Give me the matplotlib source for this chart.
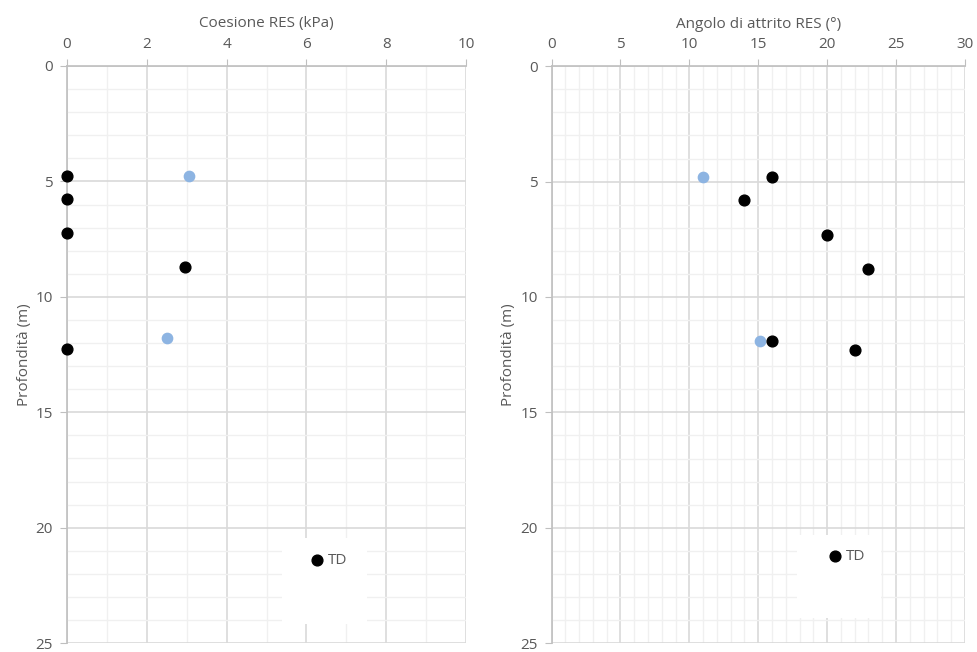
import numpy as np
import matplotlib.pyplot as plt
from matplotlib.patches import Rectangle
from matplotlib.ticker import MultipleLocator

plt.rcParams['font.family'] = ['Open Sans', 'DejaVu Sans']

# dati
prof_td_c = [4.75, 5.75, 7.25, 8.7, 12.25]
coes_td = [0.0, 0.0, 0.0, 2.95, 0.0]
prof_blu_c = [4.75, 11.8]
coes_blu = [3.05, 2.5]

prof_td_a = [4.8, 5.8, 7.3, 8.8, 11.9, 12.3]
attr_td = [16.0, 14.0, 20.0, 23.0, 16.0, 22.0]
prof_blu_a = [4.8, 11.9]
attr_blu = [11.0, 15.1]

grigio = '#595959'
blu = '#8db4e2'

fig = plt.figure(figsize=(9.78, 6.52), dpi=100)
ax1 = fig.add_axes([0.0685, 0.0135, 0.408, 0.8853])
ax2 = fig.add_axes([0.564, 0.0135, 0.4226, 0.885])


def stile(ax, xmax, xmaj, titolo, box):
    ax.set_xlim(0, xmax)
    ax.set_ylim(25, 0)
    ax.xaxis.set_major_locator(MultipleLocator(xmaj))
    ax.xaxis.set_minor_locator(MultipleLocator(1))
    ax.yaxis.set_major_locator(MultipleLocator(5))
    ax.yaxis.set_minor_locator(MultipleLocator(1))
    ax.xaxis.tick_top()
    ax.xaxis.set_label_position('top')
    ax.grid(which='major', color='#d9d9d9', lw=1.2)
    ax.grid(which='minor', color='#f0f0f0', lw=1.0)
    ax.set_axisbelow(True)
    for s in ['right', 'bottom']:
        ax.spines[s].set_visible(False)
    for s in ['left', 'top']:
        ax.spines[s].set_color('#bfbfbf')
        ax.spines[s].set_linewidth(1.2)
    ax.tick_params(which='major', length=5, color='#bfbfbf', labelcolor=grigio,
                   labelsize=11, pad=5)
    ax.tick_params(which='minor', length=0)
    ax.set_xlabel(titolo, color=grigio, fontsize=11, labelpad=7)
    ax.set_ylabel('Profondità (m)', color=grigio, fontsize=11, labelpad=3)
    ax.add_patch(Rectangle((box[0], box[1]), box[2], box[3], transform=ax.transAxes,
                           facecolor='white', edgecolor='none', zorder=2))


stile(ax1, 10, 2, 'Coesione RES (kPa)', (0.538, 0.033, 0.213, 0.150))
stile(ax2, 30, 5, 'Angolo di attrito RES (°)', (0.593, 0.043, 0.205, 0.144))

ax1.scatter(coes_blu, prof_blu_c, s=55, color=blu, zorder=3, clip_on=False)
h1 = ax1.scatter(coes_td, prof_td_c, s=60, color='black', zorder=3, clip_on=False, label='TD')
ax2.scatter(attr_blu, prof_blu_a, s=55, color=blu, zorder=3, clip_on=False)
h2 = ax2.scatter(attr_td, prof_td_a, s=60, color='black', zorder=3, clip_on=False, label='TD')

for ax, h, pos in [(ax1, h1, (0.585, 0.1436)), (ax2, h2, (0.645, 0.151))]:
    leg = ax.legend(handles=[h], loc='center left', bbox_to_anchor=pos, frameon=False,
                    handletextpad=0.1, handlelength=1.2, borderpad=0, fontsize=11,
                    labelcolor=grigio)
    leg.set_zorder(4)

fig.savefig('out.png', dpi=100)
